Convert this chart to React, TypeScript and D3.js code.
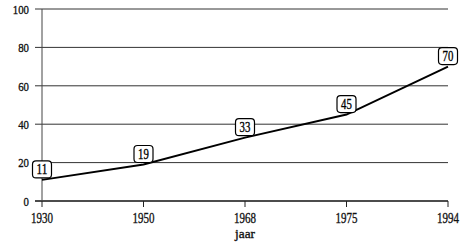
import React from "react";
import * as d3 from "d3";

const categories = ["1930", "1950", "1968", "1975", "1994"];
const values = [11, 19, 33, 45, 70];
const yTicks = [0, 20, 40, 60, 80, 100];
const xTitle = "jaar";

const font = "'Liberation Serif', 'Times New Roman', Times, serif";

function T(props: { x: number; y: number; s: string; size: number; cw: number; anchor: string; fill?: string }) {
  const { x, y, s, size, cw, anchor, fill } = props;
  return (
    <text
      x={x}
      y={y}
      dy="0.35em"
      textAnchor={anchor}
      fontSize={size}
      fill={fill || "#111"}
      stroke={fill || "#111"}
      strokeWidth={0.35}
      textLength={s.length * cw}
      lengthAdjust="spacingAndGlyphs"
      style={{ fontFamily: font }}
    >
      {s}
    </text>
  );
}

export default function App() {
  const W = 472, H = 244;
  const left = 42, right = 448, top = 9, bottom = 201;
  const x = d3.scalePoint<string>().domain(categories).range([left, right]);
  const y = d3.scaleLinear().domain([0, 100]).range([bottom, top]);
  const line = d3.line<number>().x((_, i) => x(categories[i])!).y((d) => y(d));
  return (
    <svg width={W} height={H} style={{ position: "absolute", left: 0, top: 0, background: "#fff", fontFamily: font }}>
      {yTicks.map((t) => (
        <g key={t}>
          <line x1={left - 7} x2={right} y1={y(t)} y2={y(t)} stroke={t === 0 ? "#111" : "#333"} strokeWidth={t === 0 ? 1.4 : 1} />
          <T x={left - 13} y={y(t)} s={String(t)} size={13.5} cw={5.4} anchor="end" />
        </g>
      ))}
      <line x1={left} x2={left} y1={top} y2={bottom} stroke="#444" strokeWidth={1} />
      {categories.map((c) => (
        <g key={c}>
          <line x1={x(c)} x2={x(c)} y1={bottom} y2={bottom + 6} stroke="#222" strokeWidth={1} />
          <T x={x(c)!} y={bottom + 17} s={c} size={15} cw={5.5} anchor="middle" />
        </g>
      ))}
      <T x={(left + right) / 2} y={bottom + 32} s={xTitle} size={13.5} cw={5} anchor="middle" />
      <path d={line(values) || ""} fill="none" stroke="#000" strokeWidth={2} />
      {values.map((v, i) => {
        const cx = x(categories[i])!;
        const cy = y(v);
        return (
          <g key={i}>
            <rect x={cx - 9.5} y={cy - 19} width={19} height={17} rx={3.5} fill="#fff" stroke="#000" strokeWidth={1.2} />
            <T x={cx} y={cy - 10.5} s={String(v)} size={14.5} cw={5.4} anchor="middle" fill="#000" />
          </g>
        );
      })}
    </svg>
  );
}
